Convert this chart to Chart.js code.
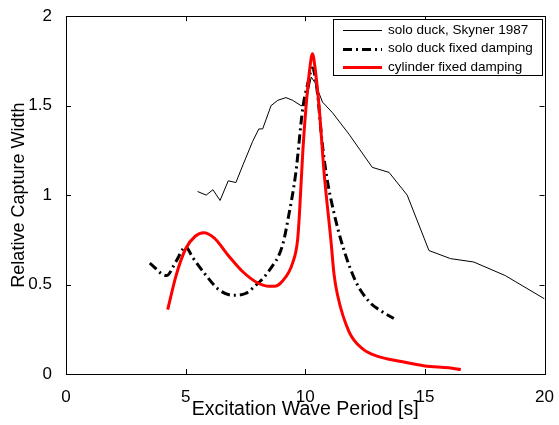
<!DOCTYPE html>
<html>
<head>
<meta charset="utf-8">
<script src="https://cdn.jsdelivr.net/npm/chart.js@4/dist/chart.umd.min.js"></script>
<style>
  html, body { margin: 0; padding: 0; background: #fff; }
  #wrap { width: 559px; height: 425px; }
</style>
</head>
<body>
<div id="wrap"><canvas id="chart"></canvas></div>
<script>
// solo duck, Skyner 1987 (thin black)
var skynerX = [5.5, 5.86, 6.14, 6.44, 6.78, 7.1, 7.4, 7.8, 8.06, 8.22, 8.57, 8.85, 9.19, 9.47, 9.82, 10.0, 10.25, 10.4, 10.72, 11.14, 11.83, 12.8, 13.5, 14.26, 15.17, 16.07, 17.04, 18.36, 20];
var skynerY = [1.02, 1.0, 1.03, 0.97, 1.08, 1.07, 1.17, 1.30, 1.37, 1.37, 1.50, 1.53, 1.545, 1.53, 1.50, 1.50, 1.66, 1.63, 1.52, 1.46, 1.34, 1.155, 1.127, 1.0, 0.69, 0.645, 0.626, 0.55, 0.42];

// solo duck fixed damping (dash-dot)
var duckX = [3.5, 4.2, 4.6, 5.0, 5.3, 5.8, 6.4, 7.0, 7.5, 7.8, 8.5, 9.05, 9.3, 9.6, 9.9, 10.1, 10.3, 10.5, 10.7, 10.9, 11.2, 11.6, 12.1, 12.7, 13.2, 13.7];
var duckY = [0.62, 0.55, 0.63, 0.71, 0.65, 0.56, 0.47, 0.44, 0.45, 0.48, 0.58, 0.72, 0.88, 1.12, 1.49, 1.62, 1.71, 1.58, 1.3, 1.1, 0.9, 0.70, 0.52, 0.40, 0.35, 0.31];

// cylinder fixed damping (red)
var cylX = [4.25, 4.6, 5.0, 5.4, 5.75, 6.2, 6.8, 7.4, 8.0, 8.5, 8.7, 9.05, 9.47, 9.68, 9.75, 9.9, 10.03, 10.2, 10.3, 10.4, 10.58, 10.79, 11.07, 11.2, 11.35, 11.83, 12.4, 13.0, 14.0, 15.0, 16.0, 16.5];
var cylY = [0.36, 0.55, 0.70, 0.77, 0.79, 0.76, 0.66, 0.57, 0.51, 0.49, 0.49, 0.52, 0.62, 0.75, 0.88, 1.25, 1.49, 1.72, 1.79, 1.72, 1.49, 1.12, 0.75, 0.56, 0.44, 0.236, 0.14, 0.10, 0.07, 0.045, 0.035, 0.025];

var seriesNames = ["solo duck, Skyner 1987", "solo duck fixed damping", "cylinder fixed damping"];
var xTicks = [0, 5, 10, 15, 20];
var yTicks = [0, 0.5, 1, 1.5, 2];

function toPoints(xs, ys) {
    return xs.map(function (x, i) { return { x: x, y: ys[i] }; });
}

var fontFamily = "'Liberation Sans', Arial, sans-serif";

// box round the axes, inward ticks on all four sides, and the legend
var matlabBox = {
    id: 'matlabBox',
    afterDraw: function (chart) {
        var ctx = chart.ctx;
        var a = chart.chartArea;
        var xs = chart.scales.x;
        var ys = chart.scales.y;
        ctx.save();
        ctx.strokeStyle = '#000';
        ctx.lineWidth = 1;
        ctx.strokeRect(Math.round(a.left) + 0.5, Math.round(a.top) + 0.5, Math.round(a.right - a.left), Math.round(a.bottom - a.top));

        let tl = 5;
        ctx.beginPath();
        xTicks.forEach(function (v) {
            let px = Math.round(xs.getPixelForValue(v)) + 0.5;
            ctx.moveTo(px, a.bottom);
            ctx.lineTo(px, a.bottom - tl);
            ctx.moveTo(px, a.top);
            ctx.lineTo(px, a.top + tl);
        });
        yTicks.forEach(function (v) {
            let py = Math.round(ys.getPixelForValue(v)) + 0.5;
            ctx.moveTo(a.left, py);
            ctx.lineTo(a.left + tl, py);
            ctx.moveTo(a.right, py);
            ctx.lineTo(a.right - tl, py);
        });
        ctx.stroke();

        // legend
        let lx = 333.5, ly = 19.5, lw = 209, lh = 56;
        ctx.fillStyle = '#fff';
        ctx.fillRect(lx, ly, lw, lh);
        ctx.strokeRect(lx, ly, lw, lh);
        ctx.font = '13.5px ' + fontFamily;
        ctx.textBaseline = 'middle';
        ctx.textAlign = 'left';
        chart.data.datasets.forEach(function (ds, i) {
            let rowY = 30 + i * 18.5;
            ctx.save();
            ctx.strokeStyle = ds.borderColor;
            ctx.lineWidth = ds.borderWidth;
            ctx.setLineDash(ds.borderDash || []);
            ctx.beginPath();
            ctx.moveTo(343, Math.round(rowY) + (ds.borderWidth % 2 ? 0.5 : 0));
            ctx.lineTo(382, Math.round(rowY) + (ds.borderWidth % 2 ? 0.5 : 0));
            ctx.stroke();
            ctx.restore();
            ctx.fillStyle = '#000';
            ctx.fillText(ds.label, 388, rowY);
        });
        ctx.restore();
    }
};

let config = {
    type: 'line',
    data: {
        datasets: [{
            label: seriesNames[0],
            data: toPoints(skynerX, skynerY),
            borderColor: '#000',
            borderWidth: 1,
            tension: 0,
            order: 3
        }, {
            label: seriesNames[1],
            data: toPoints(duckX, duckY),
            borderColor: '#000',
            borderWidth: 3,
            borderDash: [9, 4, 2, 4],
            cubicInterpolationMode: 'monotone',
            order: 2
        }, {
            label: seriesNames[2],
            data: toPoints(cylX, cylY),
            borderColor: '#ff0000',
            borderWidth: 3,
            cubicInterpolationMode: 'monotone',
            order: 1
        }]
    },
    options: {
        responsive: true,
        maintainAspectRatio: false,
        animation: false,
        elements: { point: { radius: 0 } },
        layout: { padding: { top: 14, right: 13, left: 0, bottom: 0 } },
        plugins: {
            legend: { display: false },
            tooltip: { enabled: false }
        },
        scales: {
            x: {
                type: 'linear',
                min: 0,
                max: 20,
                afterBuildTicks: function (scale) {
                    scale.ticks = xTicks.map(function (v) { return { value: v }; });
                },
                afterFit: function (scale) { scale.height = 51; },
                grid: { display: false },
                border: { display: false },
                ticks: {
                    color: '#000', padding: 5, maxRotation: 0,
                    font: { family: fontFamily, size: 17 },
                    callback: function (value) { return String(value); }
                },
                title: {
                    display: true,
                    text: 'Excitation Wave Period [s]',
                    color: '#000',
                    padding: { top: 0, bottom: 4 },
                    font: { family: fontFamily, size: 19.5 }
                }
            },
            y: {
                type: 'linear',
                min: 0,
                max: 2,
                afterBuildTicks: function (scale) {
                    scale.ticks = yTicks.map(function (v) { return { value: v }; });
                },
                afterFit: function (scale) { scale.width = 66; },
                grid: { display: false },
                border: { display: false },
                ticks: {
                    color: '#000', padding: 6,
                    font: { family: fontFamily, size: 17 },
                    callback: function (value) { return String(value); }
                },
                title: {
                    display: true,
                    text: 'Relative Capture Width',
                    color: '#000',
                    padding: { top: 8, bottom: 0 },
                    font: { family: fontFamily, size: 18 }
                }
            }
        }
    },
    plugins: [matlabBox]
};

const chart = new Chart(document.getElementById('chart'), config);
</script>
</body>
</html>
